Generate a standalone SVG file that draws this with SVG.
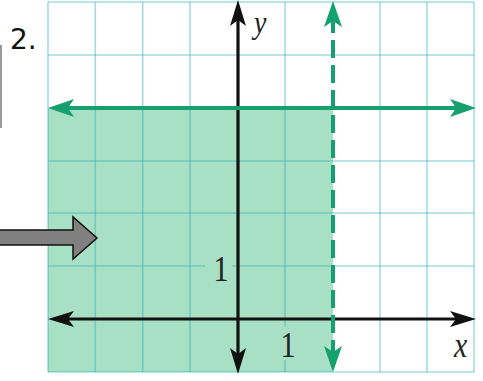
<svg xmlns="http://www.w3.org/2000/svg" width="483" height="381" viewBox="0 0 483 381">
<style>
.grid line{stroke:rgb(40,170,180);stroke-opacity:0.42;stroke-width:1.6}
.axis{stroke:#111;stroke-width:3.2;fill:none}
.bound{stroke:#16a070;stroke-width:4;fill:none}
.lbl{font-family:"Liberation Serif",serif;font-style:italic;fill:#222}
.num{font-family:"Liberation Serif",serif;fill:#222}
</style>
<defs>
<marker id="ahk" viewBox="0 0 26 16" refX="12" refY="8" markerWidth="26" markerHeight="16" markerUnits="userSpaceOnUse" orient="auto-start-reverse"><path d="M0,0 L26,8 L0,16 L6,8 Z" fill="#111"/></marker>
<marker id="ahg" viewBox="0 0 26 18" refX="12" refY="9" markerWidth="26" markerHeight="18" markerUnits="userSpaceOnUse" orient="auto-start-reverse"><path d="M0,0 L26,9 L0,18 L6,9 Z" fill="#16a070"/></marker>
</defs>
<rect width="483" height="381" fill="#fff"/>
<g id="shading"><rect x="48" y="108" width="285" height="264" fill="#a7e0c5"/></g>
<g id="grid" class="grid">
<line x1="48" y1="2" x2="48" y2="372"/>
<line x1="95.3" y1="2" x2="95.3" y2="372"/>
<line x1="142.7" y1="2" x2="142.7" y2="372"/>
<line x1="190" y1="2" x2="190" y2="372"/>
<line x1="285" y1="2" x2="285" y2="372"/>
<line x1="380" y1="2" x2="380" y2="372"/>
<line x1="427" y1="2" x2="427" y2="372"/>
<line x1="474" y1="2" x2="474" y2="372"/>
<line x1="48" y1="2" x2="474" y2="2"/>
<line x1="48" y1="55" x2="474" y2="55"/>
<line x1="48" y1="161" x2="474" y2="161"/>
<line x1="48" y1="213" x2="474" y2="213"/>
<line x1="48" y1="266" x2="474" y2="266"/>
<line x1="48" y1="372" x2="474" y2="372"/>
</g>
<g id="tick-labels">
<rect x="205" y="253" width="27" height="30" fill="#a7e0c5"/>
<text class="num" transform="translate(221,281) scale(1,1.2)" font-size="30" text-anchor="middle">1</text>
<rect x="278" y="327" width="15" height="33" fill="#a7e0c5"/>
<text class="num" transform="translate(288,357) scale(1,1.2)" font-size="30" text-anchor="middle">1</text>
</g>
<g id="connectors">
<line class="axis" x1="62" y1="319" x2="462" y2="319" marker-start="url(#ahk)" marker-end="url(#ahk)"/>
<line class="axis" x1="238" y1="360" x2="238" y2="14" marker-start="url(#ahk)" marker-end="url(#ahk)"/>
<line class="bound" x1="62" y1="108" x2="462" y2="108" marker-start="url(#ahg)" marker-end="url(#ahg)"/>
<line class="bound" x1="333" y1="358" x2="333" y2="15" stroke-dasharray="18 7" marker-start="url(#ahg)" marker-end="url(#ahg)"/>
</g>
<g id="axis-labels">
<text class="lbl" transform="translate(254,33) scale(1,1.15)" font-size="28">y</text>
<text class="lbl" transform="translate(454,357) scale(1,1.2)" font-size="30">x</text>
</g>
<g id="problem-number">
<text x="10" y="49" font-family="DejaVu Sans, Verdana, sans-serif" font-size="28" fill="#111">2.</text>
<line x1="1" y1="45" x2="1" y2="128" stroke="#999" stroke-width="2"/>
</g>
<g id="pointer">
<polygon points="-2,230 73,230 73,217 97,238 73,259 73,245 -2,245" fill="#808080" stroke="#111" stroke-width="1.5"/>
</g>
</svg>
